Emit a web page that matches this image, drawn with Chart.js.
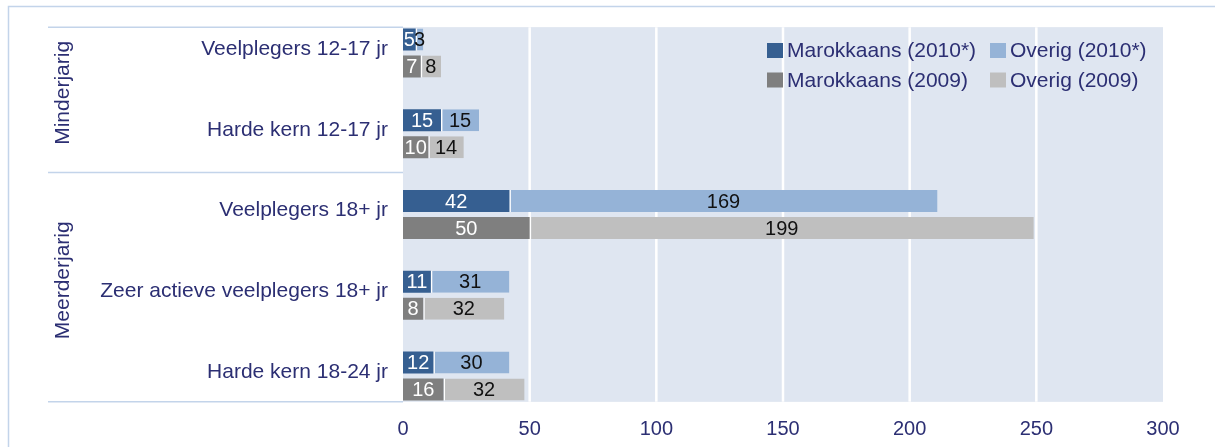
<!DOCTYPE html>
<html>
<head>
<meta charset="utf-8">
<script src="https://cdn.jsdelivr.net/npm/chart.js@4/dist/chart.umd.min.js"></script>
<style>
  html, body { margin: 0; padding: 0; background: #fff; }
  #wrap { width: 1215px; height: 447px; position: relative; }
</style>
</head>
<body>
<div id="wrap"><canvas id="chart"></canvas></div>
<script>
// data
const categories = ['Veelplegers 12-17 jr', 'Harde kern 12-17 jr', 'Veelplegers 18+ jr', 'Zeer actieve veelplegers 18+ jr', 'Harde kern 18-24 jr'];
const marokkaans2010 = [5, 15, 42, 11, 12];
const overig2010 = [3, 15, 169, 31, 30];
const marokkaans2009 = [7, 10, 50, 8, 16];
const overig2009 = [8, 14, 199, 32, 32];
const xTicks = [0, 50, 100, 150, 200, 250, 300];
const groups = [
    { label: 'Minderjarig', from: 0, to: 1 },
    { label: 'Meerderjarig', from: 2, to: 4 }
];

const NAVY = '#2c2f73';
const FONT = "'Liberation Sans', Arial, sans-serif";
const PLOT_BG = '#dfe6f1';
const LINE = '#c3d4ea';

// achtergrond, kader en scheidingslijnen
const decoPlugin = {
    id: 'deco',
    beforeDatasetsDraw(chart) {
        const { ctx, chartArea, scales } = chart;
        const band = (chartArea.bottom - chartArea.top) / categories.length;
        const inset = band * 0.18;
        ctx.save();
        ctx.fillStyle = PLOT_BG;
        ctx.fillRect(chartArea.left, chartArea.top + inset, chartArea.right - chartArea.left, chartArea.bottom - chartArea.top - 2 * inset);
        // witte rasterlijnen
        ctx.strokeStyle = '#ffffff';
        ctx.lineWidth = 2.5;
        xTicks.slice(1, -1).forEach(v => {
            const x = scales.x.getPixelForValue(v);
            ctx.beginPath();
            ctx.moveTo(x, chartArea.top + inset);
            ctx.lineTo(x, chartArea.bottom - inset);
            ctx.stroke();
        });
        ctx.restore();
    },
    afterDraw(chart) {
        const { ctx, chartArea, scales, width, height } = chart;
        const band = (chartArea.bottom - chartArea.top) / categories.length;
        const inset = band * 0.18;
        ctx.save();
        // kader
        ctx.strokeStyle = LINE;
        ctx.lineWidth = 1.5;
        ctx.beginPath();
        ctx.moveTo(width, 6.5);
        ctx.lineTo(8.5, 6.5);
        ctx.lineTo(8.5, height);
        ctx.stroke();

        // scheidingslijnen links
        const ys = [chartArea.top + inset];
        groups.slice(0, -1).forEach(g => {
            ys.push((scales.y.getPixelForValue(g.to) + scales.y.getPixelForValue(g.to + 1)) / 2 - 1.5);
        });
        ys.push(chartArea.bottom - inset);
        ctx.lineWidth = 1.5;
        ys.forEach(y => {
            ctx.beginPath();
            ctx.moveTo(48, y);
            ctx.lineTo(chartArea.left, y);
            ctx.stroke();
        });

        // groepslabels
        ctx.fillStyle = NAVY;
        ctx.font = '21px ' + FONT;
        ctx.textAlign = 'center';
        ctx.textBaseline = 'middle';
        groups.forEach((g, i) => {
            const y = (ys[i] + ys[i + 1]) / 2 - 7;
            ctx.save();
            ctx.translate(63, y);
            ctx.rotate(-Math.PI / 2);
            ctx.fillText(g.label, 0, 0);
            ctx.restore();
        });
        ctx.restore();
    }
};

// waardes in de balken
const labelPlugin = {
    id: 'barLabels',
    afterDatasetsDraw(chart) {
        const ctx = chart.ctx;
        ctx.save();
        ctx.font = '20px ' + FONT;
        ctx.textAlign = 'center';
        ctx.textBaseline = 'middle';
        chart.data.datasets.forEach((ds, i) => {
            const meta = chart.getDatasetMeta(i);
            ctx.fillStyle = ds.labelColor;
            meta.data.forEach((bar, j) => {
                ctx.fillText(ds.data[j], (bar.x + bar.base) / 2, bar.y + 1);
            });
        });
        ctx.restore();
    }
};

// legenda rechtsboven in het plotvlak
const legendPlugin = {
    id: 'legendBox',
    afterDraw(chart) {
        const ctx = chart.ctx;
        const cols = [767, 990];
        const rows = [50.5, 80];
        ctx.save();
        ctx.font = '21px ' + FONT;
        ctx.textBaseline = 'middle';
        ctx.textAlign = 'left';
        chart.data.datasets.forEach((ds, i) => {
            const x = cols[i % 2];
            const y = rows[Math.floor(i / 2)];
            ctx.fillStyle = ds.backgroundColor;
            ctx.fillRect(x, y - 7.5, 16, 15);
            ctx.fillStyle = NAVY;
            ctx.fillText(ds.label, x + 20, y + 1);
        });
        ctx.restore();
    }
};

function maakGrafiek() {
    const ctx = document.getElementById('chart');
    const common = { categoryPercentage: 0.669, barPercentage: 0.815 };
    new Chart(ctx, {
        type: 'bar',
        data: {
            labels: categories,
            datasets: [
                { label: 'Marokkaans (2010*)', data: marokkaans2010, stack: '2010', backgroundColor: '#365f91', labelColor: '#ffffff', borderWidth: 0, ...common },
                { label: 'Overig (2010*)', data: overig2010, stack: '2010', backgroundColor: '#95b3d7', labelColor: '#111111',
                  borderColor: '#ffffff', borderWidth: { left: 1.5, right: 0, top: 0, bottom: 0 }, borderSkipped: false, ...common },
                { label: 'Marokkaans (2009)', data: marokkaans2009, stack: '2009', backgroundColor: '#7f7f7f', labelColor: '#ffffff', borderWidth: 0, ...common },
                { label: 'Overig (2009)', data: overig2009, stack: '2009', backgroundColor: '#bfbfbf', labelColor: '#111111',
                  borderColor: '#ffffff', borderWidth: { left: 1.5, right: 0, top: 0, bottom: 0 }, borderSkipped: false, ...common }
            ]
        },
        options: {
            indexAxis: 'y',
            responsive: true,
            maintainAspectRatio: false,
            animation: false,
            layout: { padding: { top: 12.6, right: 52, bottom: 0, left: 0 } },
            plugins: {
                legend: { display: false },
                tooltip: { enabled: false }
            },
            scales: {
                x: {
                    stacked: true,
                    min: 0,
                    max: 300,
                    afterFit: s => { s.height = 30.6; s.paddingLeft = 0; s.paddingRight = 0; },
                    afterBuildTicks: s => { s.ticks = xTicks.map(v => ({ value: v })); },
                    grid: { display: false, drawTicks: false },
                    border: { display: false },
                    ticks: { color: NAVY, font: { family: FONT, size: 20 }, padding: 1 }
                },
                y: {
                    stacked: true,
                    afterFit: s => { s.width = 403; s.paddingTop = 0; s.paddingBottom = 0; },
                    grid: { display: false, drawTicks: false },
                    border: { display: false },
                    ticks: { color: NAVY, font: { family: FONT, size: 21 }, padding: 15, labelOffset: -4 }
                }
            }
        },
        plugins: [decoPlugin, labelPlugin, legendPlugin]
    });
}

maakGrafiek();
</script>
</body>
</html>
